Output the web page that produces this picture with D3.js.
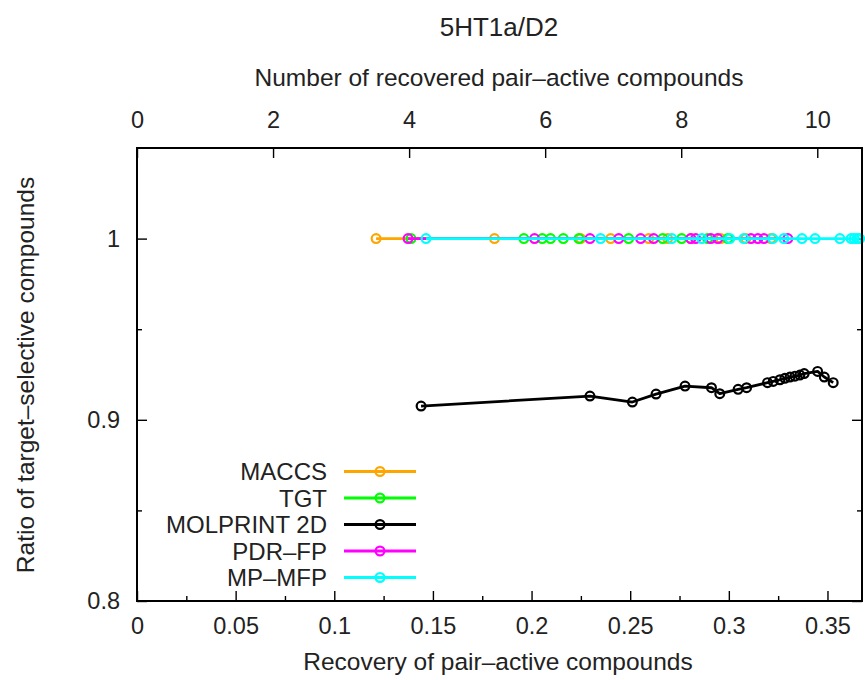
<!DOCTYPE html>
<html>
<head>
<meta charset="utf-8">
<script src="https://cdn.jsdelivr.net/npm/d3@7"></script>
<style>
  html, body { margin: 0; padding: 0; background: #fff; }
  svg text { font-family: "Liberation Sans", Arial, sans-serif; fill: #222; }
</style>
</head>
<body>
<svg id="chart" width="865" height="680"></svg>
<script>
// Recovery of pair-active compounds (x) vs. ratio of target-selective compounds (y)
const seriesNames = ["MACCS", "TGT", "MOLPRINT 2D", "PDR\u2013FP", "MP\u2013MFP"];
const seriesColors = ["#ffa500", "#00ff00", "#000000", "#ff00ff", "#00ffff"];

const maccsRecovery = [0.1212, 0.1812, 0.2249, 0.2401, 0.2594, 0.2690, 0.2807, 0.2959, 0.3086, 0.3213];
const maccsRatio    = [1, 1, 1, 1, 1, 1, 1, 1, 1, 1];

const tgtRecovery = [0.1389, 0.1961, 0.2054, 0.2096, 0.2161, 0.2240, 0.2492, 0.2665, 0.2761, 0.2893, 0.2995];
const tgtRatio    = [1, 1, 1, 1, 1, 1, 1, 1, 1, 1, 1];

const molprintRecovery = [0.1440, 0.2296, 0.2511, 0.2631, 0.2778, 0.2912, 0.2954, 0.3047, 0.3090, 0.3196,
                          0.3225, 0.3259, 0.3284, 0.3310, 0.3335, 0.3360, 0.3382, 0.3450, 0.3484, 0.3529];
const molprintRatio    = [0.9076, 0.9131, 0.9098, 0.9142, 0.9186, 0.9177, 0.9144, 0.9168, 0.9177, 0.9205,
                          0.9212, 0.9221, 0.9229, 0.9236, 0.9241, 0.9247, 0.9255, 0.9267, 0.9236, 0.9205];

const pdrRecovery = [0.1374, 0.2015, 0.2296, 0.2442, 0.2553, 0.2619, 0.2807, 0.2832, 0.2909, 0.2944,
                     0.3112, 0.3147, 0.3178, 0.3299];
const pdrRatio    = [1, 1, 1, 1, 1, 1, 1, 1, 1, 1, 1, 1, 1, 1];

const mpmfpRecovery = [0.1465, 0.2350, 0.2711, 0.2863, 0.3005, 0.3076, 0.3223, 0.3279, 0.3371, 0.3437,
                       0.3563, 0.3620, 0.3635, 0.3650, 0.3663];
const mpmfpRatio    = [1, 1, 1, 1, 1, 1, 1, 1, 1, 1, 1, 1, 1, 1, 1];

const xTicks = [0, 0.05, 0.1, 0.15, 0.2, 0.25, 0.3, 0.35];
const xTickLabels = ["0", "0.05", "0.1", "0.15", "0.2", "0.25", "0.3", "0.35"];
const xMinorTicks = [0.025, 0.075, 0.125, 0.175, 0.225, 0.275, 0.325];
const x2Ticks = [0, 2, 4, 6, 8, 10];
const x2TickLabels = ["0", "2", "4", "6", "8", "10"];
const yTicks = [0.8, 0.9, 1.0];
const yTickLabels = ["0.8", "0.9", "1"];
const yMinorTicks = [0.85, 0.95];

const xMax = 0.3675;
const pairActiveTotal = 29;

const plot = { left: 137, right: 862, top: 148, bottom: 601 };

const svg = d3.select("#chart");

const x = d3.scaleLinear().domain([0, xMax]).range([plot.left, plot.right]);
const x2 = d3.scaleLinear().domain([0, xMax * pairActiveTotal]).range([plot.left, plot.right]);
const y = d3.scaleLinear().domain([0.8, 1.05]).range([plot.bottom, plot.top]);

const tickColor = "#000";
const tickFont = 23.5;

// bottom axis
const gBottom = svg.append("g").attr("transform", `translate(0,${plot.bottom})`)
  .call(d3.axisBottom(x).tickValues(xTicks).tickSizeInner(-10).tickSizeOuter(0)
        .tickPadding(16).tickFormat((d, i) => xTickLabels[i]));
const gBottomMinor = svg.append("g").attr("transform", `translate(0,${plot.bottom})`)
  .call(d3.axisBottom(x).tickValues(xMinorTicks).tickSizeInner(-5).tickSizeOuter(0).tickFormat(""));

// top axis (number of recovered compounds)
const gTop = svg.append("g").attr("transform", `translate(0,${plot.top})`)
  .call(d3.axisTop(x2).tickValues(x2Ticks).tickSizeInner(-10).tickSizeOuter(0)
        .tickPadding(20).tickFormat((d, i) => x2TickLabels[i]));

// left axis
const gLeft = svg.append("g").attr("transform", `translate(${plot.left},0)`)
  .call(d3.axisLeft(y).tickValues(yTicks).tickSizeInner(-10).tickSizeOuter(0)
        .tickPadding(17).tickFormat((d, i) => yTickLabels[i]));
const gLeftMinor = svg.append("g").attr("transform", `translate(${plot.left},0)`)
  .call(d3.axisLeft(y).tickValues(yMinorTicks).tickSizeInner(-5).tickSizeOuter(0).tickFormat(""));

// right mirror ticks
const gRight = svg.append("g").attr("transform", `translate(${plot.right},0)`)
  .call(d3.axisRight(y).tickValues(yTicks).tickSizeInner(-10).tickSizeOuter(0).tickFormat(""));
const gRightMinor = svg.append("g").attr("transform", `translate(${plot.right},0)`)
  .call(d3.axisRight(y).tickValues(yMinorTicks).tickSizeInner(-5).tickSizeOuter(0).tickFormat(""));

[gBottom, gBottomMinor, gTop, gLeft, gLeftMinor, gRight, gRightMinor].forEach(g => {
  g.select(".domain").remove();
  g.selectAll(".tick line").attr("stroke", tickColor).attr("stroke-width", 1.4);
  g.selectAll(".tick text").attr("font-size", tickFont).attr("fill", "#222")
    .style("font-family", '"Liberation Sans", Arial, sans-serif');
});

// series
const series = [
  { recovery: maccsRecovery, ratio: maccsRatio },
  { recovery: tgtRecovery, ratio: tgtRatio },
  { recovery: molprintRecovery, ratio: molprintRatio },
  { recovery: pdrRecovery, ratio: pdrRatio },
  { recovery: mpmfpRecovery, ratio: mpmfpRatio }
].map((s, i) => ({
  name: seriesNames[i],
  color: seriesColors[i],
  points: s.recovery.map((r, j) => ({ r: r, v: s.ratio[j] }))
}));

const line = d3.line().x(d => x(d.r)).y(d => y(d.v));
const markerR = 4.4;

series.forEach(s => {
  const g = svg.append("g");
  g.append("path").datum(s.points)
    .attr("d", line).attr("fill", "none")
    .attr("stroke", s.color).attr("stroke-width", 2.8).attr("stroke-linejoin", "round");
  g.selectAll("circle").data(s.points).join("circle")
    .attr("cx", d => x(d.r)).attr("cy", d => y(d.v)).attr("r", markerR)
    .attr("fill", "none").attr("stroke", s.color).attr("stroke-width", 2.2);
});

// legend
const legend = svg.append("g");
series.forEach((s, i) => {
  const ly = 471.5 + i * 26.5;
  legend.append("text").attr("x", 327).attr("y", ly).attr("dy", "0.36em")
    .attr("text-anchor", "end").attr("font-size", 24).text(s.name);
  legend.append("line").attr("x1", 344).attr("x2", 416).attr("y1", ly).attr("y2", ly)
    .attr("stroke", s.color).attr("stroke-width", 2.8);
  legend.append("circle").attr("cx", 380).attr("cy", ly).attr("r", markerR)
    .attr("fill", "none").attr("stroke", s.color).attr("stroke-width", 2.2);
});

// border
svg.append("rect").attr("x", plot.left).attr("y", plot.top)
  .attr("width", plot.right - plot.left).attr("height", plot.bottom - plot.top)
  .attr("fill", "none").attr("stroke", "#000").attr("stroke-width", 2);

// titles
svg.append("text").attr("x", 499).attr("y", 36).attr("text-anchor", "middle")
  .attr("font-size", 26).text("5HT1a/D2");
svg.append("text").attr("x", 499).attr("y", 86).attr("text-anchor", "middle")
  .attr("font-size", 24.5).text("Number of recovered pair\u2013active compounds");
svg.append("text").attr("x", 498).attr("y", 670).attr("text-anchor", "middle")
  .attr("font-size", 24.5).text("Recovery of pair\u2013active compounds");
svg.append("text").attr("transform", "translate(34,375) rotate(-90)").attr("text-anchor", "middle")
  .attr("font-size", 24.5).text("Ratio of target\u2013selective compounds");
</script>
</body>
</html>
